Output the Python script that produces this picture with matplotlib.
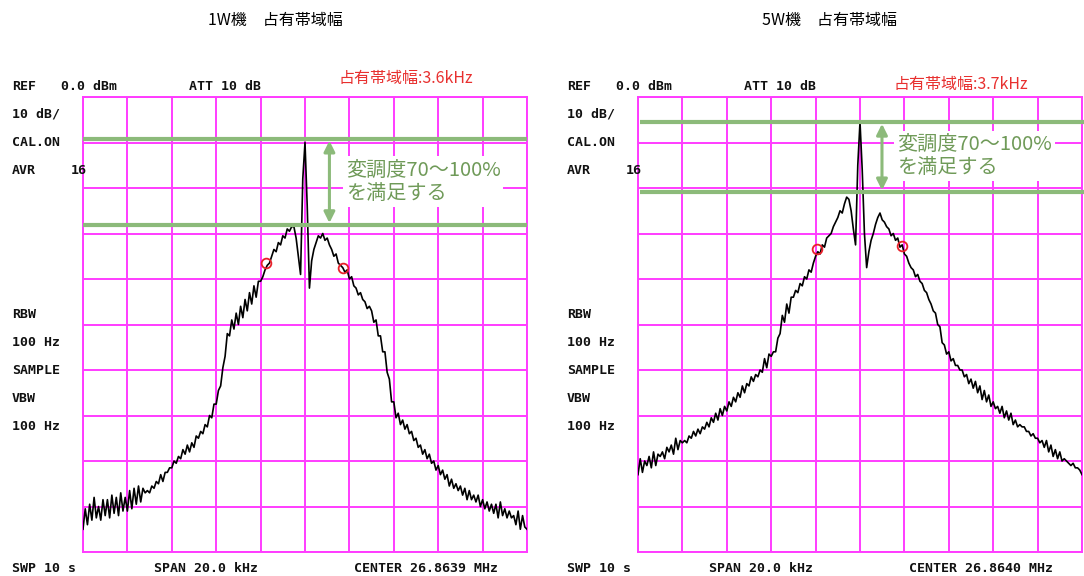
import numpy as np
import matplotlib
matplotlib.use("Agg")
import matplotlib.pyplot as plt

W, H = 1084, 576

# spectrum analyser: 20 kHz span, 10 dB/div, REF 0 dBm
freq_khz = np.round(np.arange(-10, 10.001, 0.1), 1)

# 1W trace (dBm), every 0.1 kHz
lvl_1w = [-95, -90.5, -94, -89.5, -93, -88, -92.5, -90, -93, -88.5,
          -92, -88.5, -92.5, -87.5, -91.5, -88, -92, -87, -91, -88,
          -91, -86.5, -90.5, -86, -89.5, -85.5, -89, -86, -87, -86.5,
          -87, -85.5, -86, -84.5, -85, -83, -84.5, -82.5, -82.5, -81.5,
          -81.5, -80, -80.5, -79, -79.5, -77.5, -78.5, -76.5, -78, -76,
          -77, -74.5, -75, -73.5, -74, -72, -72.5, -70, -70.5, -67.5,
          -67.5, -64.5, -63.5, -59.5, -57, -52, -52.5, -49, -51, -47.5,
          -50, -46, -48.5, -44.5, -47, -43, -45.5, -41.5, -44, -40.5,
          -40.5, -39.5, -38, -37, -36.5, -35, -33.5, -34, -32, -32.5,
          -30.5, -31, -29, -29.5, -28.5, -28.5, -31, -35, -39, -18,
          -10, -24, -42, -36, -33.5, -32, -30.5, -31, -30, -31.5,
          -31, -32.5, -33.5, -35, -34.5, -36.5, -37, -37.5, -38.5, -38,
          -40, -39.5, -41.5, -42, -43.5, -43, -44.5, -45, -46.5, -46,
          -47, -49.5, -49, -52.5, -52.5, -56, -56, -60.5, -62, -67,
          -67, -70.5, -69.5, -72, -71, -73, -72, -74, -73.5, -75.5,
          -75, -77, -76.5, -78.5, -77.5, -79.5, -78.5, -80.5, -80, -82,
          -81, -83, -82, -84, -83, -85.5, -84, -86, -85, -86.5,
          -85.5, -87.5, -86, -88.5, -86.5, -88.5, -87.5, -89, -87.5, -90,
          -88.5, -90.5, -89, -91, -89.5, -91.5, -89.5, -92.5, -89, -92,
          -90.5, -92.5, -91, -92.5, -92, -94, -91, -95, -92, -94.5,
          -95]
marks_1w_khz = [-1.74, 1.69]
marks_1w_db = [-36.5, -37.6]
band_1w_db = [-9.2, -28.1]   # green lines

# 5W trace
lvl_5w = [-83, -79.5, -82.5, -80, -81, -79, -81.5, -78, -81, -78.5,
          -79, -78, -79.5, -77, -78, -76.5, -78.5, -75, -77.5, -75.5,
          -76, -75.5, -76, -74.5, -75, -73.5, -74.5, -73, -74, -72.5,
          -73, -71.5, -72.5, -70.5, -71.5, -69.5, -71, -68.5, -70, -68,
          -69, -67, -68, -66, -67, -65, -66, -63.5, -65, -63,
          -63.5, -61.5, -62.5, -61, -61.5, -60, -60.5, -57.5, -59.5, -56.5,
          -57, -56, -56, -53, -52, -48, -49.5, -45.5, -47.5, -44,
          -44, -42.5, -43, -41, -41.5, -39.5, -40, -38, -38.5, -36.5,
          -35, -34, -34.5, -32.5, -33, -31, -30.5, -30, -28.5, -27.5,
          -26.5, -25, -25.5, -23.5, -22, -22.5, -25, -29, -32.5, -15,
          -5.5, -16, -30, -37.5, -34, -31.5, -30, -28, -26.5, -25.5,
          -27, -27.5, -28.5, -29, -30.5, -30, -31.5, -31, -33, -32.5,
          -34.5, -35, -36.5, -37.5, -38, -39.5, -39, -40.5, -41, -42.5,
          -43, -44.5, -45.5, -47, -47.5, -50, -50.5, -54, -54.5, -56.5,
          -56, -58, -57.5, -59, -59, -60, -60, -61.5, -61, -63,
          -62, -64, -62.5, -65, -63.5, -66.5, -64.5, -67, -65.5, -68,
          -67, -68.5, -68, -69.5, -68, -70.5, -69, -71, -69.5, -72,
          -71, -72.5, -72, -72.5, -72.5, -73.5, -73.5, -74.5, -74, -75,
          -75, -76, -75.5, -77, -75.5, -78, -76.5, -79, -77.5, -79.5,
          -78, -80, -79.5, -80, -80.5, -81, -80.5, -81.5, -81.5, -82,
          -83]
marks_5w_khz = [-1.94, 1.89]
marks_5w_db = [-33.4, -32.7]
band_5w_db = [-5.5, -20.9]

MAGENTA = '#ff3cff'
GREEN = '#8cba7a'
GREEN_TXT = '#6f9a58'
JP = ['Noto Sans CJK JP', 'DejaVu Sans']
MONO = dict(family='DejaVu Sans Mono', weight='bold', fontsize=9.5, color='#111111')

fig = plt.figure(figsize=(W / 100, H / 100), dpi=100)


def fx(x):
    return x / W


def fy(y):
    return 1 - y / H


def panel(x0, lvl, m_khz, m_db, band, arrow_khz, txt_khz, txt_db,
          title, obw, obw_y, center, line_span):
    ax = fig.add_axes([fx(x0), fy(552), 444 / W, 455 / H])
    ax.plot(freq_khz, lvl, color='black', lw=1.2, zorder=3)
    ax.plot(m_khz, m_db, 'o', ms=7, mfc='none', mec='#e8202a', mew=1.3, zorder=4)
    ax.set_xlim(-10, 10)
    ax.set_ylim(-100, 0)
    ax.set_xticks(np.arange(-10, 11, 2))
    ax.set_yticks(np.arange(-100, 1, 10))
    ax.grid(color=MAGENTA, lw=1.4, zorder=1)
    ax.set_axisbelow(True)
    ax.tick_params(length=0, labelbottom=False, labelleft=False)
    for s in ax.spines.values():
        s.set_color(MAGENTA)
        s.set_linewidth(1.4)
    for b in band:
        ax.plot(line_span, [b, b], color=GREEN, lw=3, zorder=5, clip_on=False,
                solid_capstyle='butt')
    ax.annotate('', xy=(arrow_khz, band[0] - 0.4), xytext=(arrow_khz, band[1] + 0.4),
                arrowprops=dict(arrowstyle='<|-|>', color=GREEN, lw=2.2,
                                mutation_scale=16, shrinkA=0, shrinkB=0), zorder=6)
    ax.text(txt_khz, txt_db, '変調度70～100%\nを満足する', family=JP, fontsize=14.5,
            color=GREEN_TXT, va='center', ha='left', linespacing=1.15, zorder=7,
            bbox=dict(boxstyle='square,pad=0.15', fc='white', ec='none'))

    # title and instrument annotations
    o = x0 - 83
    fig.text(fx(o + 275), fy(20), title, family=JP, fontsize=11.5, ha='center', va='center')
    fig.text(fx(o + 339), fy(obw_y), obw, family=JP, fontsize=11.5, color='#e8302f',
             ha='left', va='center')
    labels = [(12, 87, 'REF'), (61, 87, '0.0 dBm'), (189, 87, 'ATT 10 dB'),
              (12, 114, '10 dB/'), (12, 142, 'CAL.ON'), (12, 170, 'AVR'), (71, 170, '16'),
              (12, 314, 'RBW'), (12, 342, '100 Hz'), (12, 370, 'SAMPLE'),
              (12, 399, 'VBW'), (12, 427, '100 Hz'),
              (12, 569, 'SWP 10 s'), (154, 569, 'SPAN 20.0 kHz'), (354, 569, center)]
    for x, y, t in labels:
        fig.text(fx(x + o), fy(y), t, ha='left', va='center', **MONO)


panel(83, lvl_1w, marks_1w_khz, marks_1w_db, band_1w_db,
      1.1, 1.83, -18.6, '1W機\u3000占有帯域幅', '占有帯域幅:3.6kHz', 78,
      'CENTER 26.8639 MHz', [-10, 10])
panel(638, lvl_5w, marks_5w_khz, marks_5w_db, band_5w_db,
      0.99, 1.67, -13.0, '5W機\u3000占有帯域幅', '占有帯域幅:3.7kHz', 84,
      'CENTER 26.8640 MHz', [-9.9, 10.1])

fig.savefig('out.png', dpi=100)
